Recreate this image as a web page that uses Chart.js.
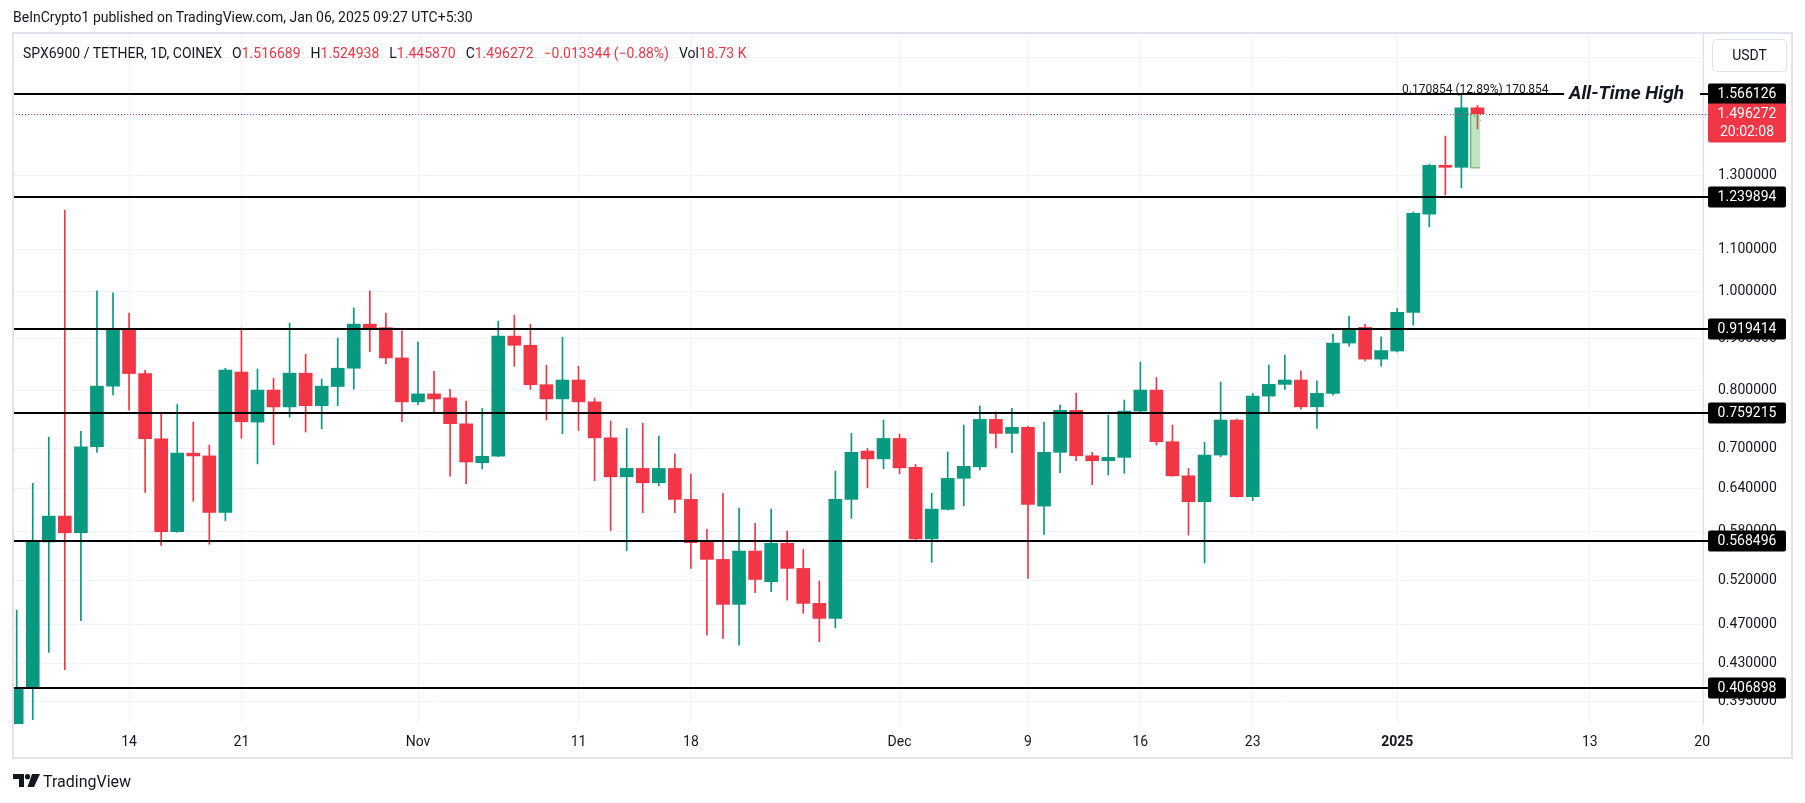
<!DOCTYPE html>
<html><head><meta charset="utf-8">
<script src="https://cdn.jsdelivr.net/npm/chart.js@4.4.1/dist/chart.umd.min.js"></script>
<style>
html,body{margin:0;padding:0;background:#fff;width:1805px;height:803px;overflow:hidden;font-family:Roboto,"Noto Sans",sans-serif;color:#131722;}
canvas{position:absolute;left:0;top:0;}
.t{position:absolute;white-space:nowrap;line-height:18px;}
.g{margin-left:10px;}
.r{color:#F23645;}
</style></head><body>
<canvas id="c" width="1805" height="803"></canvas>
<div class="t" style="left:13px;top:8px;font-size:14px;">BeInCrypto1 published on TradingView.com, Jan 06, 2025 09:27 UTC+5:30</div>
<div class="t" style="left:23px;top:44px;font-size:14px;"><span>SPX6900 / TETHER, 1D, COINEX</span><span class="g">O<span class="r">1.516689</span></span><span class="g">H<span class="r">1.524938</span></span><span class="g">L<span class="r">1.445870</span></span><span class="g">C<span class="r">1.496272</span></span><span class="g r">−0.013344 (−0.88%)</span><span class="g">Vol<span class="r">18.73 K</span></span></div>
<div class="t" style="left:13px;top:773px;font-size:16px;height:20px;">
<svg width="27" height="14" viewBox="0 0 27 14" style="vertical-align:-1px;margin-right:3px"><path d="M0 0h11v13h-5v-8h-6z" fill="#131722"/><circle cx="14.5" cy="2.7" r="2.6" fill="#131722"/><path d="M19 0h8l-6 13h-6.5z" fill="#131722"/></svg><span>TradingView</span></div>
<script>
// ---- data ----
const dates = ["2024-10-07","2024-10-08","2024-10-09","2024-10-10","2024-10-11","2024-10-12","2024-10-13","2024-10-14","2024-10-15","2024-10-16","2024-10-17","2024-10-18","2024-10-19","2024-10-20","2024-10-21","2024-10-22","2024-10-23","2024-10-24","2024-10-25","2024-10-26","2024-10-27","2024-10-28","2024-10-29","2024-10-30","2024-10-31","2024-11-01","2024-11-02","2024-11-03","2024-11-04","2024-11-05","2024-11-06","2024-11-07","2024-11-08","2024-11-09","2024-11-10","2024-11-11","2024-11-12","2024-11-13","2024-11-14","2024-11-15","2024-11-16","2024-11-17","2024-11-18","2024-11-19","2024-11-20","2024-11-21","2024-11-22","2024-11-23","2024-11-24","2024-11-25","2024-11-26","2024-11-27","2024-11-28","2024-11-29","2024-11-30","2024-12-01","2024-12-02","2024-12-03","2024-12-04","2024-12-05","2024-12-06","2024-12-07","2024-12-08","2024-12-09","2024-12-10","2024-12-11","2024-12-12","2024-12-13","2024-12-14","2024-12-15","2024-12-16","2024-12-17","2024-12-18","2024-12-19","2024-12-20","2024-12-21","2024-12-22","2024-12-23","2024-12-24","2024-12-25","2024-12-26","2024-12-27","2024-12-28","2024-12-29","2024-12-30","2024-12-31","2025-01-01","2025-01-02","2025-01-03","2025-01-04","2025-01-05","2025-01-06"];
const open  = [0.352,0.4069,0.5670,0.6012,0.5789,0.7036,0.8071,0.9199,0.8305,0.7164,0.5804,0.6934,0.6891,0.6062,0.8333,0.7440,0.8000,0.7700,0.8312,0.7722,0.8065,0.8406,0.9289,0.9215,0.8605,0.7789,0.7931,0.7860,0.7410,0.6785,0.6885,0.9041,0.8855,0.8098,0.7841,0.8184,0.7789,0.7179,0.6572,0.6698,0.6484,0.6698,0.6244,0.5680,0.5450,0.4922,0.5554,0.5181,0.5652,0.5340,0.4933,0.4768,0.6244,0.6967,0.6845,0.7169,0.6714,0.5710,0.6105,0.6550,0.6723,0.7485,0.7252,0.7351,0.6150,0.6947,0.7640,0.6893,0.6816,0.6868,0.7628,0.8000,0.7116,0.6587,0.6211,0.6904,0.7474,0.6281,0.7891,0.8104,0.8184,0.7702,0.7940,0.8899,0.9220,0.8581,0.8740,0.9541,1.1920,1.3312,1.3254,1.516689];
const high  = [0.4859,0.6475,0.7191,1.2030,0.7285,1.0017,0.9974,0.9525,0.8364,0.7588,0.7741,0.7439,0.7062,0.8406,0.9206,0.8390,0.8218,0.9312,0.8680,0.8202,0.9002,0.9639,1.0017,0.9525,0.9153,0.8918,0.8348,0.8013,0.7803,0.7674,0.9352,0.9482,0.9289,0.8464,0.9018,0.8443,0.7855,0.7457,0.7334,0.7423,0.7207,0.6920,0.6613,0.5833,0.6330,0.6118,0.5914,0.6108,0.5812,0.5575,0.5189,0.6658,0.7252,0.7009,0.7474,0.7241,0.6760,0.6330,0.6951,0.7390,0.7715,0.7616,0.7674,0.7373,0.7435,0.7732,0.7940,0.6947,0.7559,0.7821,0.8524,0.8233,0.7390,0.6698,0.7106,0.8147,0.7490,0.7940,0.8466,0.8660,0.8358,0.8171,0.9083,0.9460,0.9284,0.9026,0.9626,1.1976,1.3343,1.4226,1.566126,1.524938];
const low   = [0.345,0.3790,0.4415,0.4245,0.4743,0.6947,0.7911,0.7642,0.6342,0.5626,0.5795,0.6217,0.5640,0.5952,0.7171,0.6768,0.7067,0.7523,0.7274,0.7329,0.7722,0.8013,0.8726,0.8495,0.7446,0.7741,0.7588,0.6583,0.6469,0.6690,0.6880,0.8443,0.8013,0.7476,0.7247,0.7299,0.6514,0.5816,0.5558,0.6058,0.6440,0.6058,0.5340,0.4591,0.4556,0.4488,0.5053,0.5065,0.4970,0.4823,0.4522,0.4667,0.5981,0.6410,0.6692,0.6618,0.5682,0.5414,0.6095,0.6154,0.6674,0.7018,0.6940,0.5220,0.5768,0.6633,0.6816,0.6455,0.6598,0.6624,0.7611,0.7062,0.6580,0.5759,0.5405,0.6877,0.6275,0.6225,0.7588,0.8011,0.7661,0.7334,0.7910,0.8838,0.8544,0.8447,0.8720,0.9270,1.1582,1.2446,1.2652,1.445870];
const close = [0.4069,0.5670,0.6012,0.5789,0.7036,0.8071,0.9199,0.8305,0.7164,0.5804,0.6934,0.6891,0.6062,0.8371,0.7446,0.8000,0.7700,0.8312,0.7722,0.8071,0.8406,0.9289,0.9206,0.8605,0.7789,0.7931,0.7841,0.7413,0.6797,0.6885,0.9041,0.8855,0.8098,0.7841,0.8184,0.7789,0.7179,0.6572,0.6698,0.6484,0.6698,0.6244,0.5660,0.5450,0.4922,0.5554,0.5208,0.5652,0.5340,0.4933,0.4768,0.6244,0.6947,0.6845,0.7169,0.6707,0.5710,0.6108,0.6548,0.6729,0.7485,0.7252,0.7351,0.6174,0.6947,0.7640,0.6893,0.6816,0.6868,0.7628,0.8000,0.7116,0.6587,0.6211,0.6904,0.7474,0.6281,0.7891,0.8104,0.8184,0.7702,0.7940,0.8899,0.9199,0.8581,0.8750,0.9541,1.1940,1.3312,1.3254,1.5167,1.496272];
const levels = [1.566126, 1.239894, 0.919414, 0.759215, 0.568496, 0.406898];
const lastPrice = 1.496272;
const countdown = "20:02:08";
const rangeLow = 1.325418, rangeHigh = 1.496272;
const rangeText = "0.170854 (12.89%) 170,854";
const athText = "All-Time High";
const yTicks = [1.7, 1.5, 1.3, 1.1, 1.0, 0.9, 0.8, 0.7, 0.64, 0.58, 0.52, 0.47, 0.43, 0.395];
const xTickDates = ["2024-10-14","2024-10-21","2024-11-01","2024-11-11","2024-11-18","2024-12-01","2024-12-09","2024-12-16","2024-12-23","2025-01-01","2025-01-13","2025-01-20"];
const xTickLabels = ["14","21","Nov","11","18","Dec","9","16","23","2025","13","20"];

// ---- build ----
const t0 = Date.parse(dates[0]);
const dayOf = d => (Date.parse(d) - t0) / 864e5;
const xs = dates.map(dayOf);
const xTickVals = xTickDates.map(dayOf);
const GREEN = '#089981', RED = '#F23645';
const cols = close.map((c, i) => c >= open[i] ? GREEN : RED);

Chart.defaults.font.family = 'Roboto, "Noto Sans", sans-serif';
Chart.defaults.font.size = 14;
Chart.defaults.color = '#131722';

function rrect(ctx, x, y, w, h, r) {
  ctx.beginPath();
  ctx.moveTo(x + r, y); ctx.lineTo(x + w - r, y); ctx.quadraticCurveTo(x + w, y, x + w, y + r);
  ctx.lineTo(x + w, y + h - r); ctx.quadraticCurveTo(x + w, y + h, x + w - r, y + h);
  ctx.lineTo(x + r, y + h); ctx.quadraticCurveTo(x, y + h, x, y + h - r);
  ctx.lineTo(x, y + r); ctx.quadraticCurveTo(x, y, x + r, y); ctx.closePath();
}

const overlay = {
  id: 'overlay',
  afterDatasetsDraw(chart) {
    const ctx = chart.ctx, ca = chart.chartArea;
    const xS = chart.scales.x, yS = chart.scales.y;
    const lineEnd = ca.right + 5;
    ctx.save();
    // current price dotted line
    const py = Math.round(yS.getPixelForValue(lastPrice)) + 0.5;
    ctx.strokeStyle = RED; ctx.lineWidth = 1; ctx.setLineDash([1, 2]);
    ctx.beginPath(); ctx.moveTo(ca.left, py); ctx.lineTo(lineEnd, py); ctx.stroke();
    ctx.setLineDash([]);
    // price range box
    const rx1 = xS.getPixelForValue(90.55), rx2 = xS.getPixelForValue(91.17);
    const ry1 = yS.getPixelForValue(rangeHigh), ry2 = yS.getPixelForValue(rangeLow);
    ctx.fillStyle = 'rgba(76,175,80,0.35)';
    ctx.fillRect(rx1, ry1, rx2 - rx1, ry2 - ry1);
    ctx.strokeStyle = '#4caf50'; ctx.lineWidth = 1;
    ctx.beginPath(); ctx.moveTo(rx1 + 0.5, ry1); ctx.lineTo(rx1 + 0.5, ry2 + 0.5); ctx.lineTo(rx2, ry2 + 0.5); ctx.stroke();
    ctx.setLineDash([2, 2]);
    ctx.beginPath(); ctx.moveTo(rx1, ry1); ctx.lineTo(rx2 + 1, ry1 + 7); ctx.stroke();
    ctx.setLineDash([]);
    // level lines
    ctx.strokeStyle = '#000'; ctx.lineWidth = 2;
    levels.forEach(v => {
      const y = Math.round(yS.getPixelForValue(v));
      ctx.beginPath(); ctx.moveTo(ca.left, y); ctx.lineTo(lineEnd, y); ctx.stroke();
    });
    // ATH text with white background
    const ay = yS.getPixelForValue(levels[0]);
    ctx.fillStyle = '#fff';
    ctx.fillRect(1564, ay - 12, 136, 24);
    ctx.font = 'italic bold 19px Roboto, "Noto Sans", sans-serif';
    ctx.fillStyle = '#131722'; ctx.textBaseline = 'middle'; ctx.textAlign = 'left';
    ctx.fillText(athText, 1569, ay + 1);
    // range text
    ctx.font = '12px Roboto, "Noto Sans", sans-serif';
    ctx.textAlign = 'center'; ctx.textBaseline = 'alphabetic';
    ctx.fillText(rangeText, (rx1 + rx2) / 2, ay - 0.5);
    ctx.restore();
  },
  afterDraw(chart) {
    const ctx = chart.ctx, ca = chart.chartArea, yS = chart.scales.y;
    ctx.save();
    const bx = ca.right + 5, bw = 78;
    ctx.textAlign = 'center'; ctx.textBaseline = 'middle';
    ctx.font = '14px Roboto, "Noto Sans", sans-serif';
    levels.forEach(v => {
      const y = Math.round(yS.getPixelForValue(v));
      ctx.fillStyle = '#000';
      rrect(ctx, bx, y - 10.5, bw, 21, 2); ctx.fill();
      ctx.fillStyle = '#fff';
      ctx.fillText(v.toFixed(6), bx + bw / 2, y + 0.5);
    });
    // current price box
    const py = Math.round(yS.getPixelForValue(lastPrice));
    ctx.fillStyle = RED;
    rrect(ctx, bx, py - 10.5, bw, 39, 2); ctx.fill();
    ctx.fillStyle = '#fff';
    ctx.fillText(lastPrice.toFixed(6), bx + bw / 2, py + 0.5);
    ctx.fillText(countdown, bx + bw / 2, py + 18);
    // USDT button
    ctx.fillStyle = '#fff'; ctx.strokeStyle = '#e0e3eb'; ctx.lineWidth = 1;
    rrect(ctx, ca.right + 9.5, 39.5, 74, 32, 4); ctx.fill(); ctx.stroke();
    ctx.fillStyle = '#131722';
    ctx.fillText('USDT', ca.right + 46.5, 56);
    // frame
    ctx.strokeStyle = '#e0e3eb'; ctx.lineWidth = 2;
    ctx.strokeRect(ca.left, 33, 1792 - ca.left, 758 - 33);
    ctx.restore();
  }
};

new Chart(document.getElementById('c'), {
  type: 'bar',
  data: {
    datasets: [
      { label: 'wick', data: xs.map((x, i) => ({ x, y: [low[i], high[i]] })), backgroundColor: cols, barThickness: 1, grouped: false, order: 2, borderWidth: 0 },
      { label: 'body', data: xs.map((x, i) => ({ x, y: [open[i], close[i]] })), backgroundColor: cols, barThickness: 13, grouped: false, order: 1, borderWidth: 0, minBarLength: 2 }
    ]
  },
  options: {
    responsive: false, animation: false, devicePixelRatio: 1,
    layout: { padding: { left: 13, top: 34, right: 13, bottom: 45 } },
    plugins: { legend: { display: false }, tooltip: { enabled: false } },
    scales: {
      x: {
        type: 'linear', offset: false, min: -0.23, max: 105.05,
        grid: { color: '#f0f3fa', drawTicks: false, offset: false },
        border: { display: false },
        afterBuildTicks: s => { s.ticks = xTickVals.map(v => ({ value: v })); },
        afterFit: s => { s.height = 34; },
        ticks: {
          autoSkip: false, maxRotation: 0, padding: 10,
          callback: (v, i) => xTickLabels[i],
          font: c => ({ size: 14, weight: (c.tick && xTickLabels[c.index] === '2025') ? 'bold' : 'normal' })
        }
      },
      y: {
        type: 'logarithmic', position: 'right', min: 0.3753, max: 1.793,
        grid: { color: '#f0f3fa', drawTicks: false },
        border: { display: true, color: '#e0e3eb' },
        afterBuildTicks: s => { s.ticks = yTicks.map(v => ({ value: v })); },
        afterFit: s => { s.width = 89; },
        ticks: { autoSkip: false, padding: 15, callback: v => Number(v).toFixed(6) }
      }
    }
  },
  plugins: [overlay]
});
</script>
</body></html>
